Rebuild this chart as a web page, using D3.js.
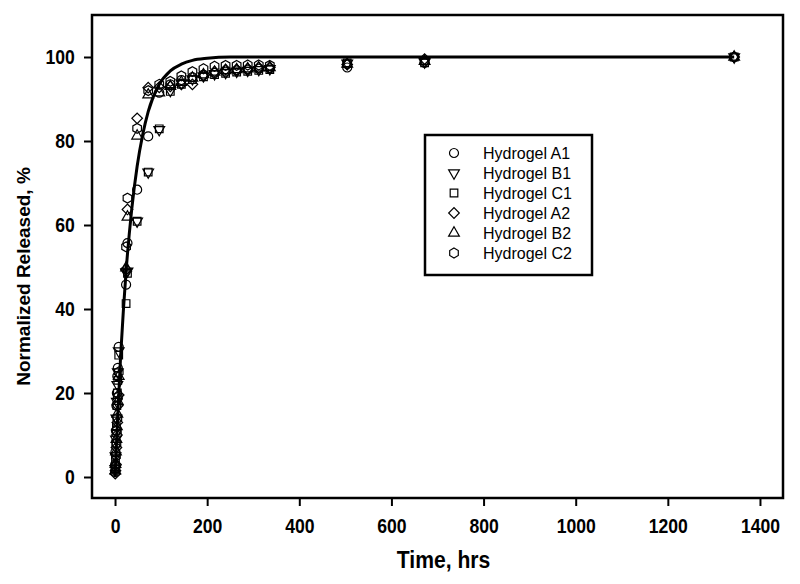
<!DOCTYPE html>
<html>
<head>
<meta charset="utf-8">
<script src="https://cdn.jsdelivr.net/npm/d3@7"></script>
<style>
  body { margin: 0; background: #fff; }
  .tick text { font-family: "Liberation Sans", Arial, sans-serif; font-weight: bold; }
</style>
</head>
<body>
<div id="chart-container"></div>
<script>
// sampling times (hrs)
const times = [0.5, 1, 2, 3, 4, 5, 6, 8, 24, 27, 48, 72, 96, 120, 144, 168, 192, 216, 240, 264, 288, 312, 336, 504, 672, 1344];

const seriesNames = ["Hydrogel A1", "Hydrogel B1", "Hydrogel C1", "Hydrogel A2", "Hydrogel B2", "Hydrogel C2"];

// normalized released, %
const hydrogelA1 = [3, 6, 11, 17, 20, 24, 26, 31, 45.8, 55.7, 68.4, 81.1, 91.5, 93.5, 94.5, 95.2, 95.8, 96.2, 96.5, 96.8, 97, 97.2, 97.3, 97.5, 98.6, 100];
const hydrogelB1 = [2, 5, 9, 14, 18, 22, 25, 30, 48.8, 49, 60.9, 72.6, 82.7, 92, 93.8, 94.8, 95.5, 96, 96.3, 96.6, 96.8, 97, 97.2, 98.5, 98.8, 100];
const hydrogelC1 = [2, 4, 8, 12, 17, 20, 23, 29, 41.3, 48.5, 60.9, 72.6, 82.9, 91.8, 93.5, 94.6, 95.3, 95.8, 96.1, 96.4, 96.6, 96.8, 97, 98.6, 98.6, 100];
const hydrogelA2 = [0.8, 1.5, 3, 7, 10, 13, 17, 19.5, 49.4, 63.7, 85.4, 92.7, 92.8, 93, 93.5, 93.5, 95.5, 96.5, 97, 97, 97.2, 97.5, 97.5, 98.2, 99.5, 100];
const hydrogelB2 = [1.5, 3, 6, 9, 12, 15, 18, 24, 49.8, 61.9, 81.2, 91, 91.5, 93, 94, 95, 95.8, 96.4, 96.8, 97, 97.2, 97.4, 97.5, 98.3, 99, 100];
const hydrogelC2 = [1.2, 2.5, 5, 8, 11, 14, 19, 25, 54.8, 66.4, 83, 92, 93.5, 94.2, 95.5, 96.5, 97.2, 97.8, 98, 98, 98.1, 98.1, 98, 98.3, 99, 100];

// fitted release curve
const fitTimes = [0, 6, 12, 18, 24, 36, 48, 60, 72, 96, 120, 144, 168, 200, 250, 300, 400, 700, 1000, 1344];
const fitValues = [0, 15, 28.5, 39.5, 49, 63.5, 74, 81.5, 87, 93.5, 96.7, 98.3, 99.2, 99.7, 100, 100, 100, 100, 100, 100];

const xTicks = [0, 200, 400, 600, 800, 1000, 1200, 1400];
const yTicks = [0, 20, 40, 60, 80, 100];

const margin = {top: 15, right: 17, bottom: 86, left: 92},
      width = 800 - margin.left - margin.right,
      height = 584 - margin.top - margin.bottom;

const svg = d3.select("#chart-container")
  .append("svg")
    .attr("width", 800)
    .attr("height", 584)
  .append("g")
    .attr("transform", "translate(" + margin.left + "," + margin.top + ")");

const x = d3.scaleLinear().domain([-50, 1450]).range([0, width]);
const y = d3.scaleLinear().domain([-5, 110]).range([height, 0]);

// axes (labels squeezed a little to look like the narrow bold face)
svg.append("g")
  .attr("transform", "translate(0," + height + ")")
  .call(d3.axisBottom(x).tickValues(xTicks).tickFormat(d3.format("d")).tickSize(8).tickPadding(13).tickSizeOuter(0))
  .call(g => g.select(".domain").remove())
  .call(g => g.selectAll(".tick line").attr("stroke-width", 2))
  .call(g => g.selectAll(".tick text").attr("font-size", 20).attr("fill", "#000")
    .attr("transform", "scale(0.88,1)"));

svg.append("g")
  .call(d3.axisLeft(y).tickValues(yTicks).tickSize(8).tickPadding(9).tickSizeOuter(0))
  .call(g => g.select(".domain").remove())
  .call(g => g.selectAll(".tick line").attr("stroke-width", 2))
  .call(g => g.selectAll(".tick text").attr("font-size", 20).attr("fill", "#000")
    .attr("x", -19.5).attr("transform", "scale(0.88,1)"));

// frame
svg.append("rect")
  .attr("x", 0).attr("y", 0)
  .attr("width", width).attr("height", height)
  .attr("fill", "none")
  .attr("stroke", "#000")
  .attr("stroke-width", 2.5);

// axis titles
svg.append("text")
  .attr("transform", "translate(" + (width / 2 + 6) + "," + (height + 70) + ") scale(0.88,1)")
  .attr("text-anchor", "middle")
  .style("font-family", "'Liberation Sans', Arial, sans-serif")
  .style("font-weight", "bold")
  .style("font-size", "24px")
  .text("Time, hrs");

svg.append("text")
  .attr("transform", "translate(" + (-62) + "," + (height / 2 + 20) + ") rotate(-90)")
  .attr("text-anchor", "middle")
  .style("font-family", "'Liberation Sans', Arial, sans-serif")
  .style("font-weight", "bold")
  .style("font-size", "19px")
  .text("Normalized Released, %");

// fitted curve
const fit = fitTimes.map((t, i) => ({t: t, v: fitValues[i]}));
svg.append("path")
  .datum(fit)
  .attr("fill", "none")
  .attr("stroke", "#000")
  .attr("stroke-width", 3)
  .attr("d", d3.line()
    .x(d => x(d.t))
    .y(d => y(d.v))
    .curve(d3.curveMonotoneX));

// hexagon symbol, pointed top
const symbolHexagon = {
  draw(context, size) {
    const r = Math.sqrt(size / (1.5 * Math.sqrt(3)));
    for (let i = 0; i < 6; i++) {
      const a = Math.PI / 3 * i - Math.PI / 2;
      if (i === 0) context.moveTo(r * Math.cos(a), r * Math.sin(a));
      else context.lineTo(r * Math.cos(a), r * Math.sin(a));
    }
    context.closePath();
  }
};

const symbols = [
  {type: d3.symbolCircle, size: 64, rot: 0},
  {type: d3.symbolTriangle, size: 50, rot: 180},
  {type: d3.symbolSquare, size: 58, rot: 0},
  {type: d3.symbolSquare, size: 56, rot: 45},
  {type: d3.symbolTriangle, size: 50, rot: 0},
  {type: symbolHexagon, size: 64, rot: 0}
];

const allSeries = [hydrogelA1, hydrogelB1, hydrogelC1, hydrogelA2, hydrogelB2, hydrogelC2];

allSeries.forEach(function(vals, s) {
  const sym = d3.symbol().type(symbols[s].type).size(symbols[s].size);
  svg.append("g")
    .selectAll("path")
    .data(vals.map((v, i) => ({t: times[i], v: v})))
    .enter()
    .append("path")
      .attr("d", sym)
      .attr("transform", d => "translate(" + x(d.t) + "," + y(d.v) + ") rotate(" + symbols[s].rot + ")")
      .attr("fill", "none")
      .attr("stroke", "#000")
      .attr("stroke-width", 1.2);
});

// legend
const legend = svg.append("g")
  .attr("transform", "translate(" + (425 - margin.left) + "," + (135 - margin.top) + ")");

legend.append("rect")
  .attr("width", 167)
  .attr("height", 140)
  .attr("fill", "#fff")
  .attr("stroke", "#000")
  .attr("stroke-width", 2.5);

seriesNames.forEach(function(name, s) {
  const row = legend.append("g")
    .attr("transform", "translate(0," + (18 + s * 20) + ")");
  row.append("path")
    .attr("d", d3.symbol().type(symbols[s].type).size(symbols[s].size)())
    .attr("transform", "translate(29,0) rotate(" + symbols[s].rot + ")")
    .attr("fill", "none")
    .attr("stroke", "#000")
    .attr("stroke-width", 1.2);
  row.append("text")
    .attr("x", 58)
    .attr("y", 0)
    .attr("dy", "0.36em")
    .style("font-family", "'Liberation Sans', Arial, sans-serif")
    .style("font-size", "16px")
    .text(name);
});
</script>
</body>
</html>
